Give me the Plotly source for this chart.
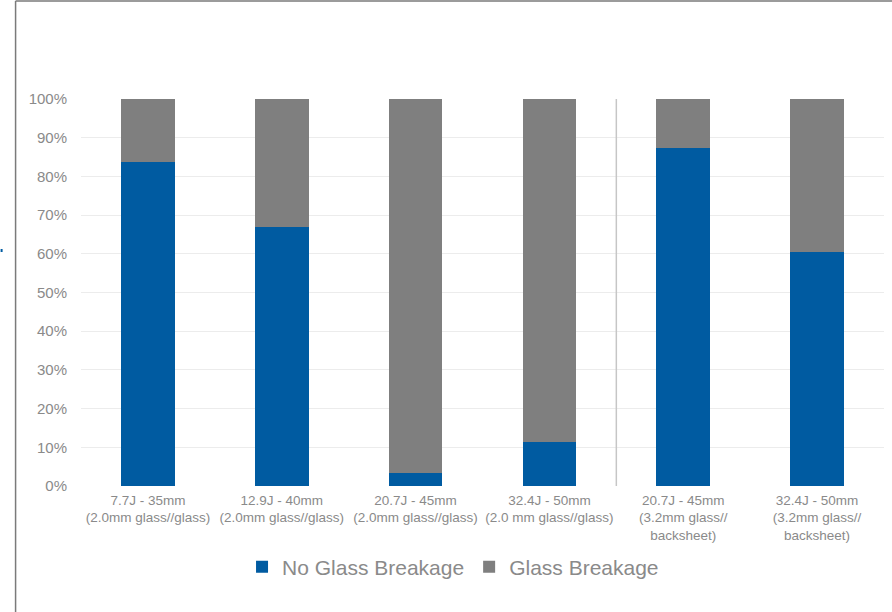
import plotly.graph_objects as go

# Impact test results: share of modules per outcome
categories = [
    "7.7J - 35mm<br>(2.0mm glass//glass)",
    "12.9J - 40mm<br>(2.0mm glass//glass)",
    "20.7J - 45mm<br>(2.0mm glass//glass)",
    "32.4J - 50mm<br>(2.0 mm glass//glass)",
    "20.7J - 45mm<br>(3.2mm glass//<br>backsheet)",
    "32.4J - 50mm<br>(3.2mm glass//<br>backsheet)",
]
no_breakage = [83.7, 66.9, 3.4, 11.4, 87.3, 60.5]
breakage = [100 - v for v in no_breakage]

W, H = 892, 612
ML, MR, MT, MB = 80.5, 7.5, 99, 126
plot_w = W - ML - MR
plot_h = H - MT - MB


def px_x(x):
    return (x - ML) / plot_w


def px_y(y):
    return (H - MB - y) / plot_h


BLUE = "#005ba1"
GRAY = "#7f7f7f"
TEXT = "#8a8a8a"

x_idx = list(range(len(categories)))

fig = go.Figure()
fig.add_trace(go.Bar(
    x=x_idx, y=[v / 100 for v in no_breakage], name="No Glass Breakage",
    marker=dict(color=BLUE, line=dict(width=0)),
))
fig.add_trace(go.Bar(
    x=x_idx, y=[v / 100 for v in breakage], name="Glass Breakage",
    marker=dict(color=GRAY, line=dict(width=0)),
))

shapes = [
    # divider between the glass//glass and glass//backsheet groups
    dict(type="line", xref="x", yref="y", x0=3.5, x1=3.5, y0=0, y1=1,
         line=dict(color="#c6c6c6", width=1.5)),
    # outer frame (left and top edges)
    dict(type="line", xref="paper", yref="paper",
         x0=px_x(15), x1=px_x(15), y0=px_y(1), y1=px_y(H + 2),
         line=dict(color="#7a7a7a", width=1.5)),
    dict(type="line", xref="paper", yref="paper",
         x0=px_x(15), x1=px_x(W + 2), y0=px_y(1), y1=px_y(1),
         line=dict(color="#7a7a7a", width=1.5)),
    # small blue mark at the left edge
    dict(type="rect", xref="paper", yref="paper",
         x0=px_x(0), x1=px_x(2), y0=px_y(252), y1=px_y(249),
         fillcolor=BLUE, line=dict(width=0)),
]

fig.update_layout(
    width=W, height=H,
    margin=dict(l=ML, r=MR, t=MT, b=MB),
    paper_bgcolor="white", plot_bgcolor="white",
    barmode="stack", bargap=0.6,
    font=dict(family="Liberation Sans, Arial, sans-serif", color=TEXT),
    xaxis=dict(
        tickmode="array", tickvals=x_idx, ticktext=categories,
        range=[-0.5, len(categories) - 0.5],
        showgrid=False, showline=False, zeroline=False, ticks="",
        tickfont=dict(size=13.5, color=TEXT),
        ticklabelstandoff=4,
    ),
    yaxis=dict(
        range=[0, 1], dtick=0.1, tickformat=".0%",
        showgrid=True, gridcolor="#ececec", gridwidth=1,
        zeroline=False, showline=False, ticks="",
        tickfont=dict(size=15, color=TEXT),
        ticklabelstandoff=13,
    ),
    legend=dict(
        orientation="h", x=px_x(453), xanchor="center",
        y=px_y(567), yanchor="middle",
        font=dict(size=21, color=TEXT),
        traceorder="normal",
    ),
    shapes=shapes,
    showlegend=True,
)

fig.write_html("out.html")
